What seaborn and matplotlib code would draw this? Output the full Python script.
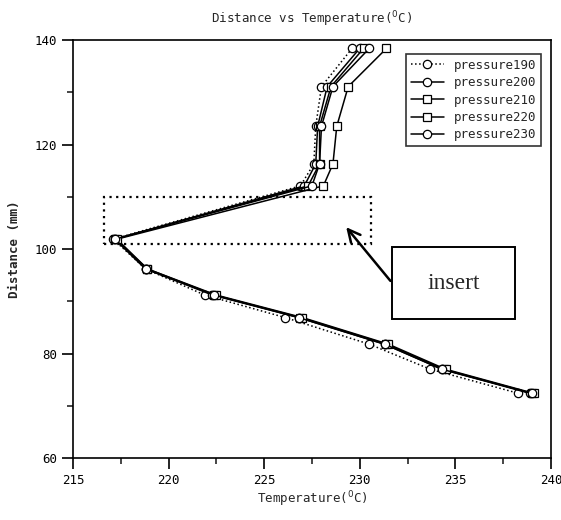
import pandas as pd
import matplotlib
matplotlib.use("Agg")
import matplotlib.pyplot as plt
import seaborn as sns
from matplotlib.patches import Rectangle
from matplotlib.ticker import MultipleLocator

# Set style
sns.set_style("ticks")
plt.rcParams['font.family'] = ['DejaVu Sans Mono', 'DejaVu Sans']

# Distance (mm) along the die, shared by every pressure run
distance = [138.4, 131.1, 123.5, 116.3, 112.1, 101.9, 96.2, 91.2, 86.9, 81.8, 77.0, 72.4]

# Temperature (C) for each pressure
temp_190 = [229.6, 228.0, 227.7, 227.6, 226.9, 217.1, 218.8, 221.9, 226.1, 230.5, 233.7, 238.3]
temp_200 = [230.0, 228.3, 227.8, 227.7, 227.1, 217.2, 218.8, 222.3, 226.8, 231.3, 234.3, 238.9]
temp_210 = [230.2, 228.5, 227.9, 227.9, 227.3, 217.2, 218.9, 222.4, 226.9, 231.4, 234.4, 239.0]
temp_220 = [231.4, 229.4, 228.8, 228.6, 228.1, 217.3, 218.9, 222.5, 227.0, 231.5, 234.5, 239.1]
temp_230 = [230.5, 228.6, 228.0, 227.9, 227.5, 217.2, 218.8, 222.4, 226.8, 231.3, 234.3, 239.0]

series_names = ['pressure190', 'pressure200', 'pressure210', 'pressure220', 'pressure230']
series_temps = [temp_190, temp_200, temp_210, temp_220, temp_230]
series_markers = ['o', 'o', 's', 's', 'o']
series_styles = [':', '-', '-', '-', '-']

fig = plt.figure(figsize=(5.61, 5.20), dpi=100)
ax = fig.add_axes([0.130, 0.119, 0.852, 0.804])

for name, temps, mk, ls in zip(series_names, series_temps, series_markers, series_styles):
    df = pd.DataFrame({'Temperature': temps, 'Distance': distance})
    sns.lineplot(data=df, x='Temperature', y='Distance', sort=False, estimator=None,
                 ax=ax, label=name, color='black', linestyle=ls, linewidth=1.1,
                 marker=mk, markersize=6, markerfacecolor='white',
                 mec='black', mew=0.9)

ax.set_xlim(215, 240)
ax.set_ylim(60, 140)
ax.xaxis.set_major_locator(MultipleLocator(5))
ax.xaxis.set_minor_locator(MultipleLocator(2.5))
ax.yaxis.set_major_locator(MultipleLocator(20))
ax.yaxis.set_minor_locator(MultipleLocator(10))
ax.tick_params(which='major', direction='out', length=8, width=1.2, labelsize=9, colors='black')
ax.tick_params(which='minor', direction='out', length=4, width=1.2)
for sp in ax.spines.values():
    sp.set_linewidth(1.2)
    sp.set_color('black')

ax.set_title('Distance vs Temperature($^0$C)', fontsize=9, pad=12)
ax.set_xlabel('Temperature($^0$C)', fontsize=9, labelpad=2)
ax.set_ylabel('Distance (mm)', fontsize=9, labelpad=10, fontweight='bold')

# dotted "insert" region
ax.add_patch(Rectangle((216.6, 101.0), 14.0, 9.0, fill=False, linestyle=(0, (1, 2)),
                       linewidth=1.6, edgecolor='black'))

# label box with arrow pointing to region
ax.annotate('', xy=(229.2, 104.6), xytext=(231.7, 93.5),
            arrowprops=dict(arrowstyle='->', lw=1.8, color='black', mutation_scale=22))
ax.add_patch(Rectangle((231.7, 86.6), 6.4, 13.8, fill=True, facecolor='white',
                       linewidth=1.4, edgecolor='black', zorder=5))
ax.text(234.9, 93.5, 'insert', fontsize=17, family='Liberation Serif',
        ha='center', va='center', zorder=6)

leg = ax.legend(loc='upper right', fontsize=9, frameon=True, fancybox=False,
                handlelength=2.6, borderaxespad=0.6, labelspacing=0.35,
                bbox_to_anchor=(0.995, 0.985))
leg.get_frame().set_edgecolor('black')
leg.get_frame().set_linewidth(1.2)

plt.savefig('out.png', dpi=100)
plt.close()
